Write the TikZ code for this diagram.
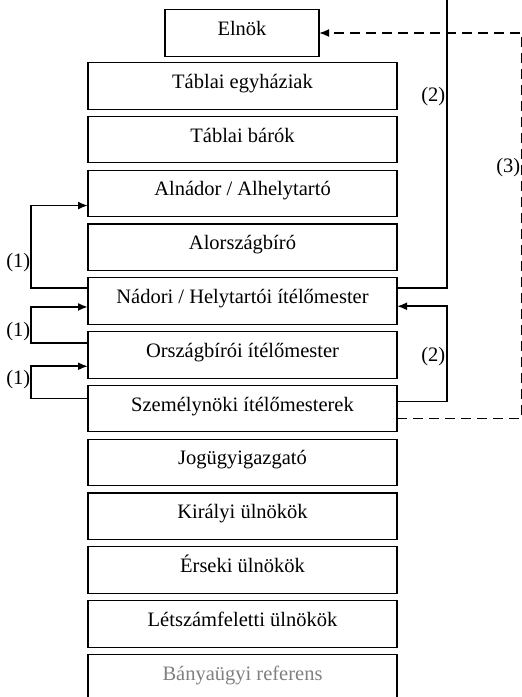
\documentclass[tikz,border=0pt]{standalone}
\usepackage{fontspec}
\setmainfont{Liberation Serif}
\usetikzlibrary{arrows.meta,positioning}

\begin{document}
\begin{tikzpicture} [x=1pt,y=-1pt,node distance=7.3pt,font=\fontsize{20.5}{24}\selectfont,
  box/.style={draw,line width=1.1pt,minimum width=309pt,minimum height=46.5pt,text height=0.7em,text depth=0.22em,inner sep=0pt,outer sep=0pt},
  link/.style={line width=1.8pt},
  arr/.style={link,-{Latex[length=10pt,width=8pt]}},
  dasharr/.style={arr,dash pattern=on 10pt off 6pt},
  lbl/.style={anchor=east,inner sep=0.5pt}]

  \useasboundingbox (0,0) rectangle (522,697);

  \node[box] (eln) [minimum width=154pt] at (242,33) {Elnök};
  \node[box] (tegy) at (242.5,85.8) {Táblai egyháziak};
  \node[box] (tbar) [below=of tegy] {Táblai bárók};
  \node[box] (alnad) [below=of tbar] {Alnádor / Alhelytartó};
  \node[box] (alorsz) [below=of alnad] {Alországbíró};
  \node[box] (nad) [below=of alorsz] {Nádori / Helytartói ítélőmester};
  \node[box] (orsz) [below=of nad] {Országbírói ítélőmester};
  \node[box] (szem) [below=of orsz] {Személynöki ítélőmesterek};
  \node[box] (jog) [below=of szem] {Jogügyigazgató};
  \node[box] (kir) [below=of jog] {Királyi ülnökök};
  \node[box] (ers) [below=of kir] {Érseki ülnökök};
  \node[box] (letsz) [below=of ers] {Létszámfeletti ülnökök};
  \node[box] (bany) [below=of letsz,text=gray] {Bányaügyi referens};

  \coordinate (up) at (446.7,-10);

  \draw[arr] ([yshift=-10.5pt]nad.north west) -- ++(-57,0) |- ([yshift=-35.4pt]alnad.north west);
  \draw[arr] ([yshift=-11.7pt]orsz.north west) -- ++(-57,0) |- ([yshift=-29.2pt]nad.north west);
  \draw[arr] ([yshift=-13.2pt]szem.north west) -- ++(-57,0) |- ([yshift=-34.7pt]orsz.north west);

  \draw[link] ([yshift=-10.5pt]nad.north east) -| (up);
  \draw[arr] ([yshift=-16.2pt]szem.north east) -- ++(49.7,0) |- ([yshift=-28.5pt]nad.north east);
  \draw[dasharr] ([yshift=-33.2pt]szem.north east) -- ++(124.5,0) |- (eln.east);

  \node[lbl] (l1) at (31,263) {(1)};
  \node[lbl] (l2) at (31,332) {(1)};
  \node[lbl] (l3) at (31,380) {(1)};
  \node[lbl] (r1) at (446,97) {(2)};
  \node[lbl] (r2) at (446,357) {(2)};
  \node[lbl] (r3) at (521,168) {(3)};

\end{tikzpicture}
\end{document}
